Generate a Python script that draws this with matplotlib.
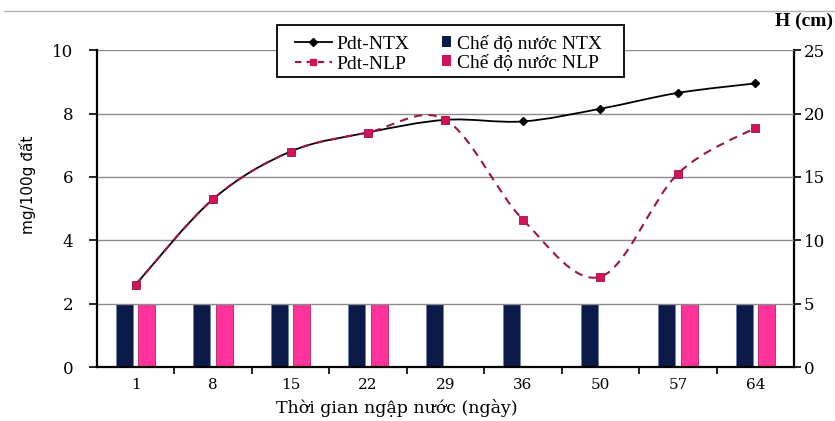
import matplotlib
matplotlib.use("Agg")
import matplotlib.pyplot as plt
import numpy as np
from matplotlib.lines import Line2D
from matplotlib.patches import PathPatch, Rectangle
from matplotlib.path import Path as MplPath


DAYS = ["1", "8", "15", "22", "29", "36", "50", "57", "64"]
PDT_NTX = [2.6, 5.3, 6.8, 7.4, 7.8, 7.75, 8.15, 8.65, 8.95]
PDT_NLP = [2.6, 5.3, 6.8, 7.4, 7.8, 4.65, 2.85, 6.1, 7.55]
H_NTX = [5, 5, 5, 5, 5, 5, 5, 5, 5]
H_NLP = [5, 5, 5, 5, 0, 0, 0, 5, 5]

NAVY = "#0b1a48"
PINK = "#ff3399"
NLP_LINE = "#9a1646"
NLP_MARK = "#d1135c"

SERIF = ["Liberation Serif", "DejaVu Serif"]
WIDE_SERIF = ["DejaVu Serif"]


def smooth_path(xs, ys):
    # Excel-like smoothed line: cubic bezier through the points
    p = np.column_stack([xs, ys]).astype(float)
    n = len(p)
    verts = [tuple(p[0])]
    codes = [MplPath.MOVETO]
    for i in range(n - 1):
        p0 = p[i - 1] if i > 0 else p[i]
        p3 = p[i + 2] if i + 2 < n else p[i + 1]
        c1 = p[i] + (p[i + 1] - p0) / 6.0
        c2 = p[i + 1] - (p3 - p[i]) / 6.0
        verts += [tuple(c1), tuple(c2), tuple(p[i + 1])]
        codes += [MplPath.CURVE4] * 3
    return MplPath(verts, codes)


def main():
    fig = plt.figure(figsize=(8.35, 4.21), dpi=100)
    ax = fig.add_axes([0.116, 0.128, 0.835, 0.753])
    ax2 = ax.twinx()

    x = np.arange(len(DAYS))
    w = 0.22
    ax2.bar(x - 0.145, H_NTX, width=w, color=NAVY, edgecolor="#6f82aa", linewidth=0.7)
    ax2.bar(x + 0.145, H_NLP, width=w, color=PINK, edgecolor="#c2306f", linewidth=0.7)
    ax2.set_ylim(0, 25)
    ax2.set_yticks(range(0, 26, 5))

    ax.set_zorder(ax2.get_zorder() + 1)
    ax.patch.set_visible(False)

    ax.add_patch(PathPatch(smooth_path(x, PDT_NTX), facecolor="none",
                           edgecolor="black", linewidth=1.3, zorder=3))
    ax.plot(x, PDT_NTX, linestyle="none", marker="D", markersize=4.5,
            color="black", zorder=4)
    ax.add_patch(PathPatch(smooth_path(x, PDT_NLP), facecolor="none",
                           edgecolor=NLP_LINE, linewidth=1.5, linestyle=(0, (4, 3)),
                           zorder=5))
    ax.plot(x, PDT_NLP, linestyle="none", marker="s", markersize=6,
            color=NLP_MARK, markeredgecolor="#a0104a", markeredgewidth=0.6, zorder=6)

    ax.set_xlim(-0.5, len(DAYS) - 0.5)
    ax.set_ylim(0, 10)
    ax.set_yticks(range(0, 11, 2))
    ax.grid(axis="y", color="#8c8c8c", linewidth=1.0)
    ax.set_axisbelow(True)

    ax.set_xticks(x)
    ax.set_xticklabels(DAYS, family=WIDE_SERIF, fontsize=11)
    ax.set_xticks(np.arange(0.5, len(DAYS) - 0.5, 1), minor=True)
    ax.tick_params(axis="x", which="major", length=0, pad=8)
    ax.tick_params(axis="x", which="minor", length=5, width=1.2, direction="out")
    ax.tick_params(axis="y", length=6, width=1.2, direction="out", pad=11)
    ax2.tick_params(axis="y", length=5, width=1.2, direction="out", pad=2)
    for lab in ax.get_yticklabels() + ax2.get_yticklabels():
        lab.set_family(WIDE_SERIF)
        lab.set_fontsize(12)

    for a in (ax, ax2):
        a.spines["top"].set_visible(False)
        for s in ("left", "right", "bottom"):
            a.spines[s].set_linewidth(1.6)
    ax.spines["right"].set_visible(False)
    ax2.spines["left"].set_visible(False)
    ax2.spines["bottom"].set_visible(False)

    ax.set_xlabel("Thời gian ngập nước (ngày)", family=WIDE_SERIF, fontsize=12.5)
    ax.xaxis.set_label_coords(0.43, -0.102)
    ax.set_ylabel("mg/100g đất", family=["Liberation Sans Narrow", "DejaVu Sans"],
                  fontsize=11)
    ax.yaxis.set_label_coords(-0.088, 0.575)

    fig.text(0.998, 0.95, "H (cm)", family=SERIF, fontsize=14, fontweight="bold",
             ha="right", va="center")

    # thin border line at the top of the picture
    fig.add_artist(Line2D([0.005, 1.0], [0.974, 0.974], color="#b5b5b5", linewidth=1.0))

    # legend frame and two columns
    fig.add_artist(Rectangle((277 / 835, 1 - 77 / 421), 347 / 835, 52 / 421,
                             transform=fig.transFigure, facecolor="white",
                             edgecolor="black", linewidth=1.3, zorder=10))
    line_handles = [
        Line2D([], [], color="black", linewidth=1.3, marker="D", markersize=4),
        Line2D([], [], color=NLP_LINE, linewidth=1.5, linestyle=(0, (3, 2.5)),
               marker="s", markersize=5, markerfacecolor=NLP_MARK,
               markeredgecolor=NLP_MARK),
    ]
    leg1 = fig.legend(line_handles, ["Pdt-NTX", "Pdt-NLP"], loc="upper left",
                      bbox_to_anchor=(281 / 835, 1 - 22 / 421), frameon=False,
                      prop={"family": SERIF, "size": 14}, handlelength=1.9,
                      handletextpad=0.25, labelspacing=0.1, borderpad=0.2)
    leg1.set_zorder(11)
    bar_handles = [
        Rectangle((0, 0), 1, 1, facecolor=NAVY, edgecolor="none"),
        Rectangle((0, 0), 1, 1, facecolor=NLP_MARK, edgecolor="none"),
    ]
    leg2 = fig.legend(bar_handles, ["Chế độ nước NTX", "Chế độ nước NLP"],
                      loc="upper left", bbox_to_anchor=(428 / 835, 1 - 22 / 421),
                      frameon=False, prop={"family": SERIF, "size": 14},
                      handlelength=0.5, handleheight=0.5, handletextpad=0.3,
                      labelspacing=0.1, borderpad=0.2)
    leg2.set_zorder(11)

    fig.savefig("out.png", dpi=100)


if __name__ == "__main__":
    main()
